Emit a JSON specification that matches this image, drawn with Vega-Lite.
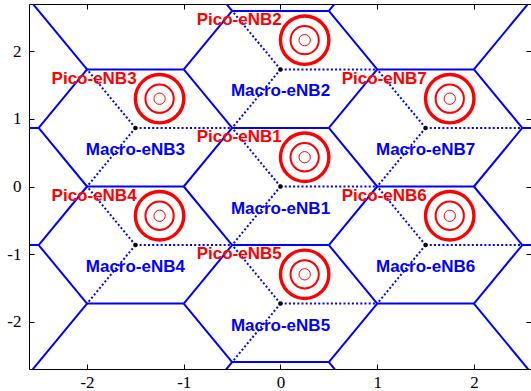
{
  "$schema": "https://vega.github.io/schema/vega-lite/v6.json",
  "width": 502,
  "height": 365,
  "autosize": {"type": "none"},
  "padding": {"left": 29, "top": 4, "right": 0, "bottom": 22},
  "background": "white",
  "config": {
    "view": {"stroke": null},
    "axis": {"domainColor": "black", "domainWidth": 1, "tickColor": "black", "tickWidth": 1, "tickSize": -5, "grid": false, "title": null, "labelFont": "Liberation Serif", "labelFontSize": 17, "labelColor": "black"}
  },
  "datasets": {
    "cells": [
      {"x": -0.5, "y": 2.598076, "x2": 0.5, "y2": 2.598076},
      {"x": -0.5, "y": 0.866025, "x2": 0.5, "y2": 0.866025},
      {"x": -0.5, "y": -0.866025, "x2": 0.5, "y2": -0.866025},
      {"x": -0.5, "y": -2.598076, "x2": 0.5, "y2": -2.598076},
      {"x": -2, "y": 1.732051, "x2": -1, "y2": 1.732051},
      {"x": -2, "y": 0, "x2": -1, "y2": 0},
      {"x": -2, "y": -1.732051, "x2": -1, "y2": -1.732051},
      {"x": 1, "y": 1.732051, "x2": 2, "y2": 1.732051},
      {"x": 1, "y": 0, "x2": 2, "y2": 0},
      {"x": 1, "y": -1.732051, "x2": 2, "y2": -1.732051},
      {"x": -1, "y": 0, "x2": -0.5, "y2": 0.866025},
      {"x": 0.5, "y": -0.866025, "x2": 1, "y2": 0},
      {"x": -1, "y": 1.732051, "x2": -0.5, "y2": 2.598076},
      {"x": 0.5, "y": 0.866025, "x2": 1, "y2": 1.732051},
      {"x": -1, "y": -1.732051, "x2": -0.5, "y2": -0.866025},
      {"x": 0.5, "y": -2.598076, "x2": 1, "y2": -1.732051},
      {"x": -2.5, "y": 0.866025, "x2": -2, "y2": 1.732051},
      {"x": -2.5, "y": -0.866025, "x2": -2, "y2": 0},
      {"x": 2, "y": 0, "x2": 2.5, "y2": 0.866025},
      {"x": 2, "y": -1.732051, "x2": 2.5, "y2": -0.866025},
      {"x": 0.5, "y": 0.866025, "x2": 1, "y2": 0},
      {"x": -1, "y": 0, "x2": -0.5, "y2": -0.866025},
      {"x": 0.5, "y": 2.598076, "x2": 1, "y2": 1.732051},
      {"x": -1, "y": 1.732051, "x2": -0.5, "y2": 0.866025},
      {"x": 0.5, "y": -0.866025, "x2": 1, "y2": -1.732051},
      {"x": -1, "y": -1.732051, "x2": -0.5, "y2": -2.598076},
      {"x": -2.5, "y": 0.866025, "x2": -2, "y2": 0},
      {"x": -2.5, "y": -0.866025, "x2": -2, "y2": -1.732051},
      {"x": 2, "y": 1.732051, "x2": 2.5, "y2": 0.866025},
      {"x": 2, "y": 0, "x2": 2.5, "y2": -0.866025},
      {"x": 2, "y": 1.732051, "x2": 3, "y2": 3.464102},
      {"x": 0.5, "y": 2.598076, "x2": 1, "y2": 3.464102},
      {"x": -0.5, "y": 2.598076, "x2": -1, "y2": 3.464102},
      {"x": -2, "y": 1.732051, "x2": -3, "y2": 3.464102},
      {"x": -2.5, "y": 0.866025, "x2": -4, "y2": 0.866025},
      {"x": -2.5, "y": -0.866025, "x2": -4, "y2": -0.866025},
      {"x": -2, "y": -1.732051, "x2": -3, "y2": -3.464102},
      {"x": -0.5, "y": -2.598076, "x2": -1, "y2": -3.464102},
      {"x": 0.5, "y": -2.598076, "x2": 1, "y2": -3.464102},
      {"x": 2, "y": -1.732051, "x2": 3, "y2": -3.464102},
      {"x": 2.5, "y": -0.866025, "x2": 4, "y2": -0.866025},
      {"x": 2.5, "y": 0.866025, "x2": 4, "y2": 0.866025}
    ],
    "sectors": [
      {"x": 0, "y": 0, "x2": 1, "y2": 0},
      {"x": 0, "y": 0, "x2": -0.5, "y2": 0.866025},
      {"x": 0, "y": 0, "x2": -0.5, "y2": -0.866025},
      {"x": 0, "y": 1.732051, "x2": 1, "y2": 1.732051},
      {"x": 0, "y": 1.732051, "x2": -0.5, "y2": 2.598076},
      {"x": 0, "y": 1.732051, "x2": -0.5, "y2": 0.866025},
      {"x": -1.5, "y": 0.866025, "x2": -0.5, "y2": 0.866025},
      {"x": -1.5, "y": 0.866025, "x2": -2, "y2": 1.732051},
      {"x": -1.5, "y": 0.866025, "x2": -2, "y2": 0},
      {"x": -1.5, "y": -0.866025, "x2": -0.5, "y2": -0.866025},
      {"x": -1.5, "y": -0.866025, "x2": -2, "y2": 0},
      {"x": -1.5, "y": -0.866025, "x2": -2, "y2": -1.732051},
      {"x": 0, "y": -1.732051, "x2": 1, "y2": -1.732051},
      {"x": 0, "y": -1.732051, "x2": -0.5, "y2": -0.866025},
      {"x": 0, "y": -1.732051, "x2": -0.5, "y2": -2.598076},
      {"x": 1.5, "y": -0.866025, "x2": 2.5, "y2": -0.866025},
      {"x": 1.5, "y": -0.866025, "x2": 1, "y2": 0},
      {"x": 1.5, "y": -0.866025, "x2": 1, "y2": -1.732051},
      {"x": 1.5, "y": 0.866025, "x2": 2.5, "y2": 0.866025},
      {"x": 1.5, "y": 0.866025, "x2": 1, "y2": 1.732051},
      {"x": 1.5, "y": 0.866025, "x2": 1, "y2": 0}
    ],
    "sites": [
      {"x": 0, "y": 0, "px": 0.25, "py": 0.433, "macro": "Macro-eNB1", "pico": "Pico-eNB1"},
      {"x": 0, "y": 1.732051, "px": 0.25, "py": 2.165, "macro": "Macro-eNB2", "pico": "Pico-eNB2"},
      {"x": -1.5, "y": 0.866025, "px": -1.25, "py": 1.299, "macro": "Macro-eNB3", "pico": "Pico-eNB3"},
      {"x": -1.5, "y": -0.866025, "px": -1.25, "py": -0.433, "macro": "Macro-eNB4", "pico": "Pico-eNB4"},
      {"x": 0, "y": -1.732051, "px": 0.25, "py": -1.299, "macro": "Macro-eNB5", "pico": "Pico-eNB5"},
      {"x": 1.5, "y": -0.866025, "px": 1.75, "py": -0.433, "macro": "Macro-eNB6", "pico": "Pico-eNB6"},
      {"x": 1.5, "y": 0.866025, "px": 1.75, "py": 1.299, "macro": "Macro-eNB7", "pico": "Pico-eNB7"}
    ]
  },
  "resolve": {"axis": {"x": "independent", "y": "independent"}},
  "layer": [
    {
      "data": {"name": "cells"},
      "mark": {"type": "rule", "color": "#0000FF", "strokeWidth": 2, "clip": true},
      "encoding": {
        "x": {"field": "x", "type": "quantitative", "scale": {"domain": [-2.6, 2.59], "nice": false, "zero": false},
              "axis": {"orient": "bottom", "values": [-2, -1, 0, 1, 2], "labelPadding": 23, "labelBaseline": "alphabetic", "labelExpr": "replace(datum.label, '\u2212', '-')"}},
        "y": {"field": "y", "type": "quantitative", "scale": {"domain": [-2.7, 2.7], "nice": false, "zero": false},
              "axis": {"orient": "left", "values": [-2, -1, 0, 1, 2], "labelPadding": 13, "labelExpr": "replace(datum.label, '\u2212', '-')"}},
        "x2": {"field": "x2"},
        "y2": {"field": "y2"}
      }
    },
    {
      "data": {"name": "sectors"},
      "mark": {"type": "rule", "color": "#0000FF", "strokeWidth": 2, "strokeDash": [2, 2.2], "clip": true},
      "encoding": {
        "x": {"field": "x", "type": "quantitative", "axis": {"orient": "top", "values": [-2, -1, 0, 1, 2], "labels": false}},
        "y": {"field": "y", "type": "quantitative", "axis": {"orient": "right", "values": [-2, -1, 0, 1, 2], "labels": false, "domain": false}},
        "x2": {"field": "x2"},
        "y2": {"field": "y2"}
      }
    },
    {
      "data": {"name": "sites"},
      "mark": {"type": "point", "shape": "circle", "filled": true, "color": "#000000", "size": 20, "opacity": 1},
      "encoding": {
        "x": {"field": "x", "type": "quantitative", "axis": null},
        "y": {"field": "y", "type": "quantitative", "axis": null}
      }
    },
    {
      "data": {"name": "sites"},
      "mark": {"type": "point", "shape": "circle", "filled": false, "color": "#FF0000", "size": 2343, "strokeWidth": 3.4, "opacity": 1},
      "encoding": {
        "x": {"field": "px", "type": "quantitative", "axis": null},
        "y": {"field": "py", "type": "quantitative", "axis": null}
      }
    },
    {
      "data": {"name": "sites"},
      "mark": {"type": "point", "shape": "circle", "filled": false, "color": "#FF0000", "size": 800, "strokeWidth": 2, "opacity": 1},
      "encoding": {
        "x": {"field": "px", "type": "quantitative", "axis": null},
        "y": {"field": "py", "type": "quantitative", "axis": null}
      }
    },
    {
      "data": {"name": "sites"},
      "mark": {"type": "point", "shape": "circle", "filled": false, "color": "#FF0000", "size": 128, "strokeWidth": 1, "opacity": 1},
      "encoding": {
        "x": {"field": "px", "type": "quantitative", "axis": null},
        "y": {"field": "py", "type": "quantitative", "axis": null}
      }
    },
    {
      "data": {"name": "sites"},
      "mark": {"type": "text", "font": "Liberation Sans", "fontWeight": "bold", "fontSize": 17, "color": "#FF0000", "align": "left", "baseline": "alphabetic", "dx": -108, "dy": -15},
      "encoding": {
        "x": {"field": "px", "type": "quantitative", "axis": null},
        "y": {"field": "py", "type": "quantitative", "axis": null},
        "text": {"field": "pico"}
      }
    },
    {
      "data": {"name": "sites"},
      "mark": {"type": "text", "font": "Liberation Sans", "fontWeight": "bold", "fontSize": 17, "color": "#0000FF", "align": "center", "baseline": "alphabetic", "dy": 27},
      "encoding": {
        "x": {"field": "x", "type": "quantitative", "axis": null},
        "y": {"field": "y", "type": "quantitative", "axis": null},
        "text": {"field": "macro"}
      }
    }
  ]
}
